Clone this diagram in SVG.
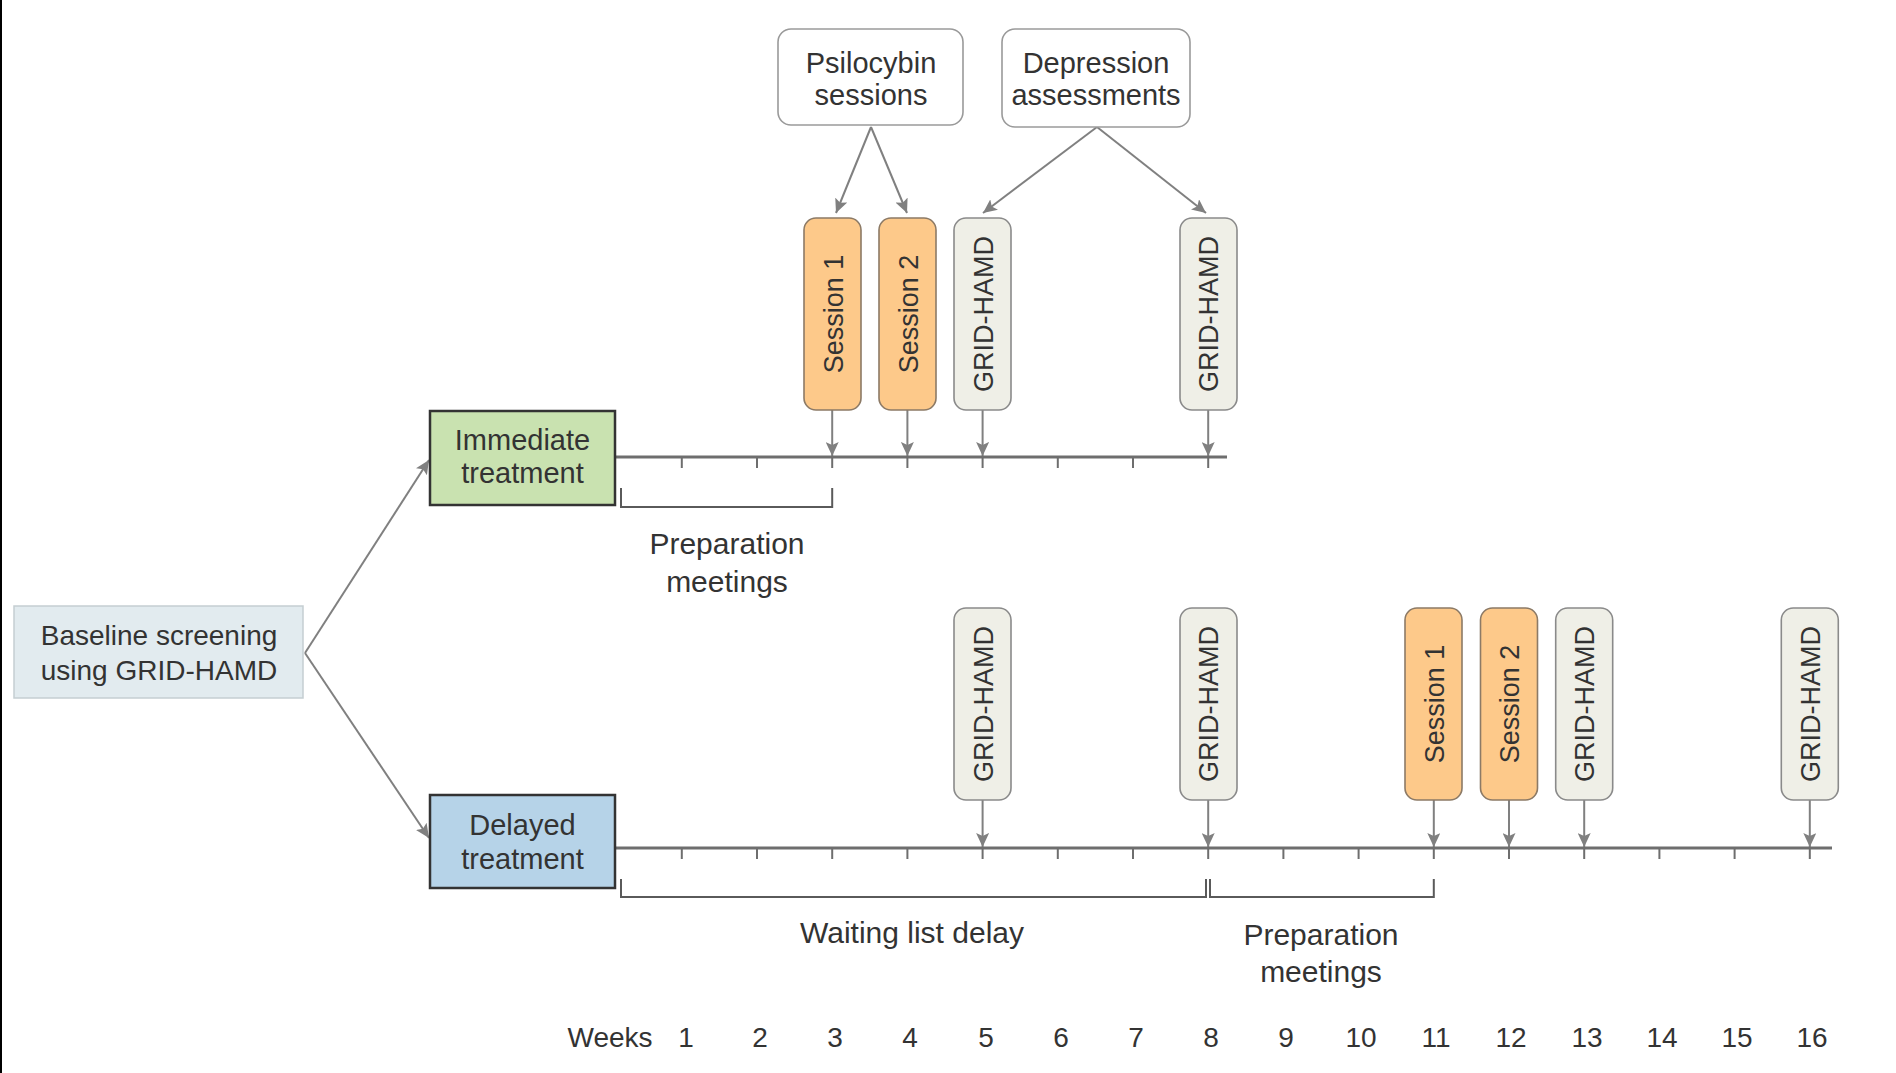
<svg xmlns="http://www.w3.org/2000/svg" width="1896" height="1073" viewBox="0 0 1896 1073">
<defs>
<style>
text{font-family:"Liberation Sans",Arial,sans-serif;fill:#333;}
.lbl{font-size:29px;text-anchor:middle;}
.vt{font-size:27px;text-anchor:middle;}
.wk{font-size:28px;text-anchor:middle;}
.call{fill:#fff;stroke:#9a9a9a;stroke-width:1.6;}
.sess{fill:#fdc98a;stroke:#8c7a66;stroke-width:1.6;}
.grid{fill:#efefe7;stroke:#8a8a8a;stroke-width:1.6;}
.arm{fill:none;stroke:#333;stroke-width:2.5;}
.conn{stroke:#808080;stroke-width:2;fill:none;marker-end:url(#ah);}
.tl{stroke:#6e6e6e;stroke-width:3;fill:none;}
.tick{stroke:#6e6e6e;stroke-width:2;}
.brk{stroke:#5a5a5a;stroke-width:2;fill:none;}
</style>
<marker id="ah" viewBox="0 0 14 13" refX="14" refY="6.5" markerWidth="14" markerHeight="13" markerUnits="userSpaceOnUse" orient="auto">
<path d="M0,0 L14,6.5 L0,13 L3,6.5 z" fill="#808080"/>
</marker>
</defs>
<rect x="0" y="0" width="1896" height="1073" fill="#fff"/>
<rect x="0" y="0" width="2" height="1073" fill="#000"/>

<g id="connectors">
<line class="conn" x1="305" y1="653" x2="429" y2="460"/>
<line class="conn" x1="305" y1="653" x2="429" y2="838"/>
<line class="conn" x1="871" y1="127" x2="836" y2="213"/>
<line class="conn" x1="871" y1="127" x2="907" y2="213"/>
<line class="conn" x1="1097" y1="127" x2="983" y2="213"/>
<line class="conn" x1="1097" y1="127" x2="1206" y2="213"/>
<line class="conn" x1="832.2" y1="410" x2="832.2" y2="456"/>
<line class="conn" x1="907.4" y1="410" x2="907.4" y2="456"/>
<line class="conn" x1="982.6" y1="410" x2="982.6" y2="456"/>
<line class="conn" x1="1208.2" y1="410" x2="1208.2" y2="456"/>
<line class="conn" x1="982.6" y1="800" x2="982.6" y2="847"/>
<line class="conn" x1="1208.2" y1="800" x2="1208.2" y2="847"/>
<line class="conn" x1="1433.8" y1="800" x2="1433.8" y2="847"/>
<line class="conn" x1="1509" y1="800" x2="1509" y2="847"/>
<line class="conn" x1="1584.2" y1="800" x2="1584.2" y2="847"/>
<line class="conn" x1="1809.8" y1="800" x2="1809.8" y2="847"/>
</g>

<g id="timeline-immediate">
<line class="tl" x1="615" y1="457" x2="1227" y2="457"/>
<g class="tick">
<line x1="681.8" y1="457" x2="681.8" y2="468"/>
<line x1="757" y1="457" x2="757" y2="468"/>
<line x1="832.2" y1="457" x2="832.2" y2="468"/>
<line x1="907.4" y1="457" x2="907.4" y2="468"/>
<line x1="982.6" y1="457" x2="982.6" y2="468"/>
<line x1="1057.8" y1="457" x2="1057.8" y2="468"/>
<line x1="1133" y1="457" x2="1133" y2="468"/>
<line x1="1208.2" y1="457" x2="1208.2" y2="468"/>
</g>
<path class="brk" d="M621,488 V507 H832.2 V488"/>
<text class="lbl" x="727" y="554" style="font-size:30px">Preparation</text>
<text class="lbl" x="727" y="592" style="font-size:30px">meetings</text>
</g>

<g id="timeline-delayed">
<line class="tl" x1="615" y1="848" x2="1832" y2="848"/>
<g class="tick">
<line x1="681.8" y1="848" x2="681.8" y2="859"/>
<line x1="757" y1="848" x2="757" y2="859"/>
<line x1="832.2" y1="848" x2="832.2" y2="859"/>
<line x1="907.4" y1="848" x2="907.4" y2="859"/>
<line x1="982.6" y1="848" x2="982.6" y2="859"/>
<line x1="1057.8" y1="848" x2="1057.8" y2="859"/>
<line x1="1133" y1="848" x2="1133" y2="859"/>
<line x1="1208.2" y1="848" x2="1208.2" y2="859"/>
<line x1="1283.4" y1="848" x2="1283.4" y2="859"/>
<line x1="1358.6" y1="848" x2="1358.6" y2="859"/>
<line x1="1433.8" y1="848" x2="1433.8" y2="859"/>
<line x1="1509" y1="848" x2="1509" y2="859"/>
<line x1="1584.2" y1="848" x2="1584.2" y2="859"/>
<line x1="1659.4" y1="848" x2="1659.4" y2="859"/>
<line x1="1734.6" y1="848" x2="1734.6" y2="859"/>
<line x1="1809.8" y1="848" x2="1809.8" y2="859"/>
</g>
<path class="brk" d="M621,879 V897 H1206 V879"/>
<path class="brk" d="M1210,879 V897 H1433.8 V879"/>
<text class="lbl" x="912" y="943" style="font-size:30px">Waiting list delay</text>
<text class="lbl" x="1321" y="945" style="font-size:30px">Preparation</text>
<text class="lbl" x="1321" y="982" style="font-size:30px">meetings</text>
</g>

<g id="baseline">
<rect x="14" y="606" width="289" height="92" fill="#e2ebef" stroke="#c5ced2" stroke-width="1.5"/>
<text class="lbl" x="159" y="645" style="font-size:28px">Baseline screening</text>
<text class="lbl" x="159" y="680" style="font-size:28px">using GRID-HAMD</text>
</g>

<g id="immediate">
<rect class="arm" x="430" y="411" width="185" height="94" style="fill:#c9e2b0"/>
<text class="lbl" x="522.5" y="450">Immediate</text>
<text class="lbl" x="522.5" y="483">treatment</text>
</g>

<g id="delayed">
<rect class="arm" x="430" y="795" width="185" height="93" style="fill:#b6d3e8"/>
<text class="lbl" x="522.5" y="835">Delayed</text>
<text class="lbl" x="522.5" y="869">treatment</text>
</g>

<g id="psilocybin-sessions">
<rect class="call" x="778" y="29" width="185" height="96" rx="13"/>
<text class="lbl" x="871" y="73">Psilocybin</text>
<text class="lbl" x="871" y="105">sessions</text>
</g>

<g id="depression-assessments">
<rect class="call" x="1002" y="29" width="188" height="98" rx="13"/>
<text class="lbl" x="1096" y="73">Depression</text>
<text class="lbl" x="1096" y="105">assessments</text>
</g>

<g id="imm-session1">
<rect class="sess" x="804" y="218" width="57" height="192" rx="12"/>
<text class="vt" transform="translate(832.5,314) rotate(-90)" y="10">Session 1</text>
</g>
<g id="imm-session2">
<rect class="sess" x="879" y="218" width="57" height="192" rx="12"/>
<text class="vt" transform="translate(907.5,314) rotate(-90)" y="10">Session 2</text>
</g>
<g id="imm-grid-w5">
<rect class="grid" x="954" y="218" width="57" height="192" rx="12"/>
<text class="vt" transform="translate(982.6,314) rotate(-90)" y="10">GRID-HAMD</text>
</g>
<g id="imm-grid-w8">
<rect class="grid" x="1180" y="218" width="57" height="192" rx="12"/>
<text class="vt" transform="translate(1208.2,314) rotate(-90)" y="10">GRID-HAMD</text>
</g>

<g id="del-grid-w5">
<rect class="grid" x="954" y="608" width="57" height="192" rx="12"/>
<text class="vt" transform="translate(982.6,704) rotate(-90)" y="10">GRID-HAMD</text>
</g>
<g id="del-grid-w8">
<rect class="grid" x="1180" y="608" width="57" height="192" rx="12"/>
<text class="vt" transform="translate(1208.2,704) rotate(-90)" y="10">GRID-HAMD</text>
</g>
<g id="del-session1">
<rect class="sess" x="1405" y="608" width="57" height="192" rx="12"/>
<text class="vt" transform="translate(1433.8,704) rotate(-90)" y="10">Session 1</text>
</g>
<g id="del-session2">
<rect class="sess" x="1480.5" y="608" width="57" height="192" rx="12"/>
<text class="vt" transform="translate(1509,704) rotate(-90)" y="10">Session 2</text>
</g>
<g id="del-grid-w13">
<rect class="grid" x="1555.7" y="608" width="57" height="192" rx="12"/>
<text class="vt" transform="translate(1584.2,704) rotate(-90)" y="10">GRID-HAMD</text>
</g>
<g id="del-grid-w16">
<rect class="grid" x="1781.3" y="608" width="57" height="192" rx="12"/>
<text class="vt" transform="translate(1809.8,704) rotate(-90)" y="10">GRID-HAMD</text>
</g>

<g id="weeks-axis">
<text class="wk" x="610" y="1047">Weeks</text>
<text class="wk" x="686" y="1047">1</text>
<text class="wk" x="760" y="1047">2</text>
<text class="wk" x="835" y="1047">3</text>
<text class="wk" x="910" y="1047">4</text>
<text class="wk" x="986" y="1047">5</text>
<text class="wk" x="1061" y="1047">6</text>
<text class="wk" x="1136" y="1047">7</text>
<text class="wk" x="1211" y="1047">8</text>
<text class="wk" x="1286" y="1047">9</text>
<text class="wk" x="1361" y="1047">10</text>
<text class="wk" x="1436" y="1047">11</text>
<text class="wk" x="1511" y="1047">12</text>
<text class="wk" x="1587" y="1047">13</text>
<text class="wk" x="1662" y="1047">14</text>
<text class="wk" x="1737" y="1047">15</text>
<text class="wk" x="1812" y="1047">16</text>
</g>
</svg>
